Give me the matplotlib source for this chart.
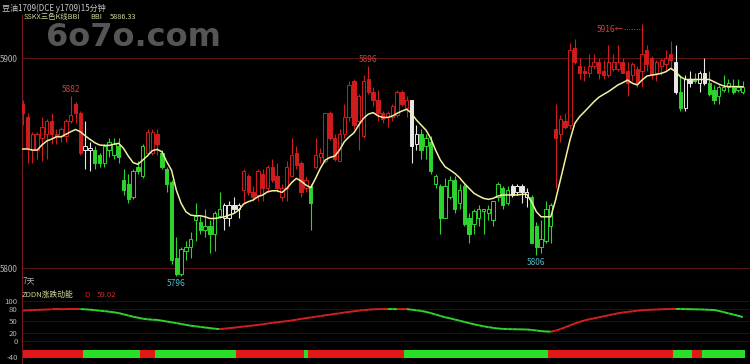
import matplotlib
matplotlib.use('Agg')
import matplotlib.pyplot as plt
import numpy as np

plt.rcParams['font.family'] = ['Noto Sans CJK SC', 'DejaVu Sans']

# 15 minute bars, y1709 soybean oil
opens = [5878, 5872, 5856, 5856, 5862, 5864, 5870, 5864, 5863, 5863,
         5870, 5878, 5874, 5856, 5856, 5856, 5854, 5850, 5856, 5854,
         5858, 5842, 5840, 5834, 5848, 5844, 5855, 5855, 5864, 5855,
         5847, 5841, 5805, 5797, 5808, 5810, 5823, 5822, 5818, 5820,
         5816, 5825, 5824, 5824, 5830, 5828, 5837, 5844, 5836, 5835,
         5845, 5838, 5848, 5844, 5834, 5838, 5844, 5855, 5850, 5838,
         5839, 5848, 5853, 5851, 5874, 5862, 5851, 5864, 5872, 5889,
         5870, 5863, 5890, 5884, 5880, 5874, 5872, 5872, 5873, 5884,
         5876, 5880, 5859, 5864, 5858, 5860, 5840, 5839, 5824, 5834,
         5842, 5831, 5839, 5824, 5821, 5824, 5827, 5826, 5823, 5834,
         5838, 5831, 5839, 5836, 5839, 5834, 5834, 5820, 5810, 5813,
         5820, 5866, 5864, 5870, 5868, 5905, 5896, 5894, 5893, 5896,
         5898, 5894, 5892, 5895, 5895, 5898, 5894, 5892, 5895, 5894,
         5904, 5900, 5893, 5896, 5897, 5902, 5898, 5884, 5876, 5890,
         5890, 5888, 5893, 5888, 5885, 5882, 5885, 5886, 5886, 5885,
         5884]
highs = [5880, 5874, 5865, 5865, 5872, 5871, 5874, 5866, 5867, 5871,
         5882, 5879, 5875, 5870, 5860, 5858, 5855, 5859, 5862, 5862,
         5862, 5847, 5845, 5847, 5851, 5859, 5866, 5866, 5866, 5856,
         5848, 5842, 5815, 5810, 5813, 5817, 5831, 5825, 5828, 5823,
         5827, 5836, 5831, 5832, 5834, 5831, 5847, 5845, 5839, 5847,
         5847, 5849, 5852, 5850, 5840, 5851, 5862, 5858, 5851, 5844,
         5840, 5862, 5857, 5874, 5875, 5864, 5866, 5878, 5889, 5890,
         5883, 5892, 5896, 5886, 5885, 5875, 5875, 5878, 5885, 5885,
         5882, 5880, 5868, 5866, 5864, 5863, 5845, 5840, 5843, 5844,
         5844, 5840, 5840, 5826, 5828, 5830, 5828, 5830, 5832, 5841,
         5839, 5839, 5840, 5840, 5840, 5838, 5835, 5822, 5823, 5832,
         5831, 5878, 5873, 5874, 5907, 5909, 5900, 5896, 5902, 5902,
         5900, 5899, 5906, 5902, 5906, 5900, 5898, 5898, 5896, 5916,
         5906, 5901, 5899, 5900, 5904, 5908, 5906, 5892, 5892, 5894,
         5893, 5894, 5900, 5894, 5887, 5887, 5892, 5890, 5890, 5890,
         5889]
lows = [5868, 5850, 5850, 5852, 5851, 5852, 5859, 5859, 5860, 5860,
        5869, 5869, 5854, 5847, 5846, 5847, 5848, 5848, 5853, 5852,
        5850, 5835, 5831, 5833, 5845, 5843, 5854, 5854, 5854, 5847,
        5836, 5802, 5796, 5796, 5804, 5805, 5813, 5816, 5815, 5807,
        5808, 5824, 5818, 5820, 5826, 5824, 5831, 5835, 5832, 5832,
        5832, 5836, 5841, 5836, 5832, 5832, 5844, 5847, 5834, 5836,
        5818, 5847, 5850, 5850, 5861, 5851, 5851, 5862, 5870, 5866,
        5856, 5862, 5883, 5877, 5870, 5869, 5867, 5870, 5872, 5877,
        5872, 5850, 5856, 5852, 5852, 5845, 5838, 5816, 5824, 5833,
        5826, 5828, 5820, 5812, 5816, 5820, 5816, 5823, 5820, 5832,
        5828, 5830, 5834, 5835, 5831, 5829, 5812, 5806, 5807, 5812,
        5812, 5838, 5860, 5866, 5866, 5897, 5890, 5889, 5891, 5895,
        5890, 5890, 5891, 5894, 5894, 5893, 5882, 5889, 5886, 5886,
        5894, 5890, 5889, 5892, 5894, 5895, 5883, 5875, 5875, 5886,
        5888, 5884, 5887, 5882, 5878, 5878, 5884, 5884, 5883, 5884,
        5883]
closes = [5874, 5857, 5864, 5864, 5867, 5870, 5864, 5863, 5866, 5870,
          5873, 5874, 5855, 5858, 5857, 5850, 5850, 5858, 5860, 5859,
          5853, 5837, 5833, 5846, 5846, 5858, 5865, 5865, 5859, 5848,
          5840, 5804, 5797, 5809, 5810, 5814, 5825, 5818, 5820, 5816,
          5826, 5828, 5830, 5830, 5828, 5830, 5846, 5836, 5834, 5846,
          5838, 5848, 5842, 5838, 5838, 5848, 5854, 5849, 5836, 5842,
          5831, 5854, 5855, 5874, 5862, 5852, 5864, 5872, 5887, 5868,
          5882, 5889, 5884, 5880, 5874, 5871, 5874, 5877, 5884, 5878,
          5880, 5858, 5864, 5856, 5862, 5846, 5844, 5824, 5839, 5842,
          5828, 5837, 5821, 5816, 5827, 5828, 5828, 5828, 5832, 5840,
          5830, 5837, 5835, 5839, 5836, 5836, 5812, 5810, 5814, 5828,
          5830, 5862, 5871, 5867, 5904, 5898, 5893, 5893, 5896, 5898,
          5893, 5892, 5898, 5898, 5898, 5893, 5888, 5897, 5888, 5902,
          5897, 5892, 5898, 5899, 5900, 5899, 5884, 5876, 5890, 5888,
          5889, 5893, 5888, 5883, 5880, 5886, 5886, 5888, 5884, 5886,
          5886]
bbi = [5856.7, 5856.7, 5856.2, 5856.2, 5858.6, 5860.5, 5861.4, 5862.5, 5862.5, 5863.7,
       5864.9, 5866.0, 5864.9, 5863.0, 5861.3, 5859.7, 5858.6, 5858.4, 5858.4, 5859.0,
       5859.4, 5857.0, 5853.3, 5850.2, 5849.4, 5851.4, 5853.5, 5855.9, 5856.5, 5855.4,
       5850.6, 5846.6, 5837.1, 5830.8, 5826.8, 5825.2, 5824.9, 5824.9, 5824.4, 5823.6,
       5823.6, 5824.0, 5824.4, 5825.2, 5826.0, 5827.6, 5830.5, 5831.6, 5832.4, 5834.0,
       5834.8, 5836.3, 5836.8, 5836.8, 5836.0, 5837.9, 5840.6, 5842.7, 5841.4, 5839.5,
       5838.3, 5842.7, 5847.5, 5851.4, 5852.7, 5853.3, 5856.2, 5860.2, 5862.5, 5864.4,
       5868.1, 5871.3, 5873.3, 5874.0, 5872.5, 5871.7, 5871.7, 5872.4, 5873.7, 5874.8,
       5875.6, 5873.7, 5870.5, 5868.1, 5865.7, 5861.7, 5856.2, 5851.4, 5848.2, 5846.7,
       5845.1, 5843.0, 5840.3, 5837.9, 5835.6, 5834.3, 5833.2, 5832.7, 5833.2, 5834.3,
       5834.8, 5834.8, 5834.8, 5834.8, 5835.1, 5835.1, 5831.6, 5826.8, 5824.4, 5824.4,
       5824.4, 5832.4, 5841.9, 5851.4, 5861.0, 5868.9, 5872.1, 5874.4, 5876.8, 5879.2,
       5881.3, 5882.7, 5884.0, 5885.6, 5887.2, 5888.3, 5889.5, 5888.0, 5887.2, 5889.5,
       5891.4, 5891.9, 5892.2, 5892.7, 5893.5, 5895.1, 5893.5, 5891.1, 5889.8, 5889.8,
       5889.8, 5889.8, 5889.8, 5889.8, 5888.7, 5887.6, 5886.7, 5886.4, 5886.4, 5886.4,
       5886.33]
# three colour K line: r = above, g = below, w = neutral
kcolor_runs = [('r', 13), ('w', 2), ('g', 11), ('r', 3), ('g', 13), ('w', 4),
               ('r', 14), ('g', 1), ('r', 20), ('w', 2), ('g', 19), ('w', 4),
               ('g', 5), ('r', 25), ('w', 1), ('g', 1), ('w', 2), ('g', 1),
               ('w', 2), ('g', 8)]

# ZDDN momentum
zddn = [75, 76, 76.5, 77, 77.5, 78, 78.5, 78.5, 78.5, 79,
        79, 79, 79, 78.5, 77.5, 76.5, 75, 74, 72.5, 71,
        69, 66, 63, 60, 57.5, 55, 53.5, 52.5, 52, 50,
        48, 46, 44, 42, 39.5, 37.5, 36, 34.5, 33, 31.5,
        30, 29, 30, 31.5, 32.5, 34, 35.5, 36.5, 38, 39.5,
        41, 43, 44.5, 46, 47.5, 49, 50.5, 52.5, 54.5, 56.5,
        58, 60, 61.5, 63.5, 65, 67, 68.5, 70.5, 72, 73.5,
        75, 76.5, 77.5, 78.5, 78.9, 79.1, 79.2, 79.0, 78.9, 79.0,
        79.1, 77.5, 76, 74.5, 72, 69, 65.5, 62, 58.5, 56,
        53, 50, 47, 44, 41, 38.5, 36, 34, 32, 30.5,
        29.5, 29, 28.8, 28.5, 28.2, 28, 27, 25.5, 24, 23,
        22.5, 25, 29, 33.5, 38.5, 43, 47, 50.5, 53.5, 56,
        58.5, 61, 63.5, 66, 68.5, 70.5, 72, 73.5, 75, 76,
        77, 77.5, 78, 78.5, 79, 79.2, 79.4, 79.2, 79, 78.8,
        78.5, 78.2, 77.8, 77.2, 76.7, 74.5, 71.5, 68.5, 65.5, 62.5,
        59.02]
strip_runs = [('r', 13), ('g', 12), ('r', 3), ('g', 17), ('r', 14), ('g', 1),
              ('r', 20), ('g', 30), ('r', 26), ('g', 4), ('r', 2), ('g', 9)]

price_ticks = [5900, 5800]
zddn_ticks = [100, 80, 50, 20, 0, -40]
hi_marks = [10, 72]
lo_marks = [32, 107]
top_mark = 129

kpal = {'r': '#d01c1c', 'g': '#2ed42e', 'w': '#e8e8e8'}
spal = {'r': '#e01818', 'g': '#28e028'}
RED = '#d42020'
GREEN = '#30d430'
GRID = '#5a1414'
TXT = '#b4b4b4'

W, H = 750, 364
fig = plt.figure(figsize=(7.5, 3.64), dpi=100, facecolor='black')
ax1 = fig.add_axes([22 / W, (H - 288) / H, 728 / W, 273 / H], facecolor='black')
ax2 = fig.add_axes([22 / W, 0, 728 / W, 76 / H], facecolor='black')

# watermark sits behind everything
fig.text(133 / W, 1 - 37 / H, '6o7o.com', color='#555555', fontsize=23,
         fontweight='bold', family='DejaVu Sans', ha='center', va='center',
         zorder=0)

x = np.arange(len(closes))
o = np.array(opens, dtype=float)
c = np.array(closes, dtype=float)
kcolors = [k for k, n in kcolor_runs for _ in range(n)]
cols = [kpal[k] for k in kcolors]
face = ['black' if cc > oo else col for oo, cc, col in zip(o, c, cols)]

# candles
ax1.vlines(x, lows, highs, colors=cols, lw=0.8, zorder=2)
ax1.bar(x, np.maximum(np.abs(c - o), 0.5), bottom=np.minimum(o, c), width=0.7,
        color=face, edgecolor=cols, linewidth=0.7, zorder=3)
ax1.plot(x, bbi, color='#f4f0a0', lw=1.1, zorder=4)

for p in price_ticks:
    ax1.axhline(p, color=GRID, lw=0.8, zorder=1)

ax1.set_xlim(-0.15, 151.5)
ax1.set_ylim(5790.5, 5920.5)
ax1.set_xticks([])
ax1.set_yticks(price_ticks)
ax1.set_yticklabels([str(p) for p in price_ticks], color=TXT, fontsize=5.8)
ax1.tick_params(axis='y', length=0, pad=3)
for s in ['top', 'right']:
    ax1.spines[s].set_visible(False)
ax1.spines['left'].set_color('#7a1a1a')
ax1.spines['bottom'].set_color('#7a1a1a')

for i in hi_marks:
    ax1.annotate(str(highs[i]), xy=(i, highs[i]), xytext=(0, 1.5),
                 textcoords='offset points', ha='center', va='bottom',
                 color='#d04040', fontsize=6)
for i in lo_marks:
    ax1.annotate(str(lows[i]), xy=(i, lows[i]), xytext=(0, -1.5),
                 textcoords='offset points', ha='center', va='top',
                 color='#50b8c8', fontsize=6)
ylab = highs[top_mark] - 2.3
ax1.plot([top_mark - 3.8, top_mark], [ylab, ylab], ls=(0, (1, 1.5)),
         color='#d04040', lw=0.7)
ax1.text(top_mark - 3.8, ylab, str(highs[top_mark]) + '←', ha='right',
         va='center', color='#d04040', fontsize=6)

# ZDDN panel
d = np.array(zddn)
for i in range(1, len(d)):
    col = RED if d[i] >= d[i - 1] else GREEN
    ax2.plot([i - 1, i], [d[i - 1], d[i]], color=col, lw=1.4,
             solid_capstyle='butt')
scol = [spal[k] for k, n in strip_runs for _ in range(n)]
ax2.bar(x, 21, bottom=-44, width=1.0, color=scol)
for t in zddn_ticks[:-1]:
    ax2.axhline(t, color='#3c0c0c', lw=0.6, zorder=0)

ax2.set_xlim(-0.15, 151.5)
ax2.set_ylim(-58.25, 131.75)
ax2.set_xticks([])
ax2.set_yticks(zddn_ticks)
ax2.set_yticklabels([str(t) for t in zddn_ticks], color=TXT, fontsize=5.6)
ax2.tick_params(axis='y', length=0, pad=3)
for s in ['top', 'right', 'bottom']:
    ax2.spines[s].set_visible(False)
ax2.spines['left'].set_color('#7a1a1a')

# texts
fig.text(2 / W, 1 - 8 / H, '豆油1709(DCE y1709)15分钟', color='#c8c8c8',
         fontsize=5.8, va='center')
fig.text(24 / W, 1 - 17 / H, 'SSKX三色K线BBI', color='#d4d49a', fontsize=5.3, va='center')
fig.text(90 / W, 1 - 17 / H, 'BBI', color='#d4d49a', fontsize=5.3, va='center')
fig.text(110 / W, 1 - 17 / H, f'{bbi[-1]:.2f}', color='#d4d49a', fontsize=5.3, va='center')
fig.text(23 / W, 1 - 281 / H, '7天', color=TXT, fontsize=5.8, va='center')
fig.text(22 / W, 1 - 295 / H, 'ZDDN涨跌动能', color='#d4d49a', fontsize=5.6, va='center')
fig.text(84 / W, 1 - 295 / H, 'D', color=RED, fontsize=5.6, va='center')
fig.text(97 / W, 1 - 295 / H, f'{zddn[-1]:.2f}', color='#c83030', fontsize=5.6, va='center')

fig.savefig('out.png', dpi=100, facecolor='black')
